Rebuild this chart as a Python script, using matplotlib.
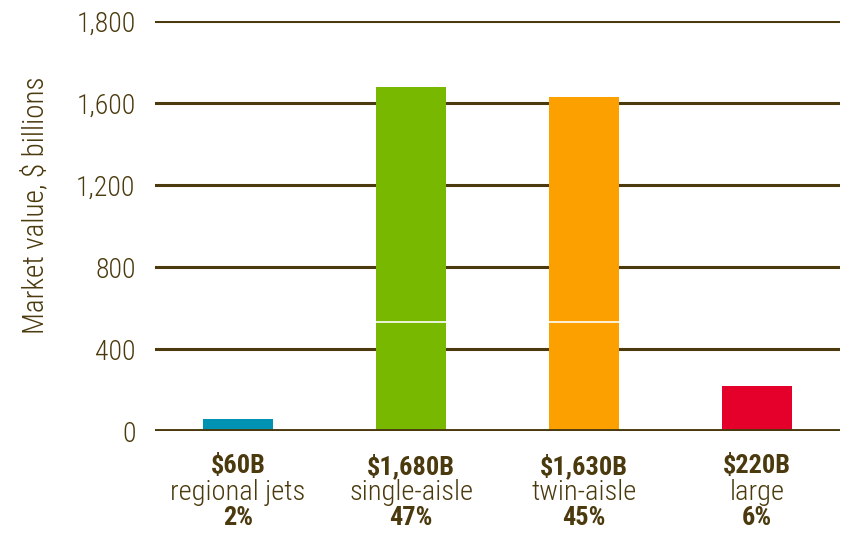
import matplotlib
matplotlib.use('Agg')
import matplotlib.pyplot as plt
from matplotlib import font_manager

# Datos
categorias = ['regional jets', 'single-aisle', 'twin-aisle', 'large']
valores = [60, 1680, 1630, 220]
etiquetas_valor = ['$60B', '$1,680B', '$1,630B', '$220B']
porcentajes = ['2%', '47%', '45%', '6%']
divisiones = [None, 530, 530, None]
colores = ['#0091b3', '#78b800', '#fca000', '#e4002b']
ticks_y = [0, 400, 800, 1200, 1600, 2000]
ticks_y_etiquetas = ['0', '400', '800', '1,200', '1,600', '1,800']

# Buscar una fuente condensada
nombres = {f.name for f in font_manager.fontManager.ttflist}
fuente = 'Roboto Condensed' if 'Roboto Condensed' in nombres else 'DejaVu Sans'
plt.rcParams['font.family'] = [fuente, 'DejaVu Sans']

marron = '#4b3a0e'
fino = 'light'

fig = plt.figure(figsize=(8.41, 5.35), dpi=100)
ax = fig.add_axes([155 / 841, 104 / 535, 685 / 841, 410 / 535])

x = list(range(len(categorias)))
ancho = 0.405

for t in ticks_y[1:]:
    ax.axhline(t, color=marron, lw=2.2, zorder=0.5)
ax.axhline(0, color=marron, lw=2.8, zorder=4)

ax.bar(x, valores, width=ancho, color=colores, zorder=3)

for i, d in enumerate(divisiones):
    if d is not None:
        ax.hlines(d, i - ancho / 2, i + ancho / 2, color='white', lw=1.2, zorder=3.5)

ax.set_xlim(-0.48, 3.48)
ax.set_ylim(0, 2000)
ax.set_yticks(ticks_y)
ax.set_yticklabels(ticks_y_etiquetas, fontsize=20, color=marron, fontweight=fino)
ax.tick_params(axis='y', length=0, pad=14)
ax.set_xticks([])
for s in ax.spines.values():
    s.set_visible(False)

for i in x:
    ax.text(i, -0.085, etiquetas_valor[i], transform=ax.get_xaxis_transform(),
            ha='center', va='center', fontsize=19, fontweight='bold', color=marron)
    ax.text(i, -0.149, categorias[i], transform=ax.get_xaxis_transform(),
            ha='center', va='center', fontsize=20.5, fontweight=fino, color=marron)
    ax.text(i, -0.212, porcentajes[i], transform=ax.get_xaxis_transform(),
            ha='center', va='center', fontsize=19, fontweight='bold', color=marron)

fig.text(35 / 841, 1 - 205 / 535, 'Market value, $ billions', rotation=90,
         ha='center', va='center', fontsize=21, fontweight=fino, color=marron)

fig.savefig('out.png', dpi=100)
